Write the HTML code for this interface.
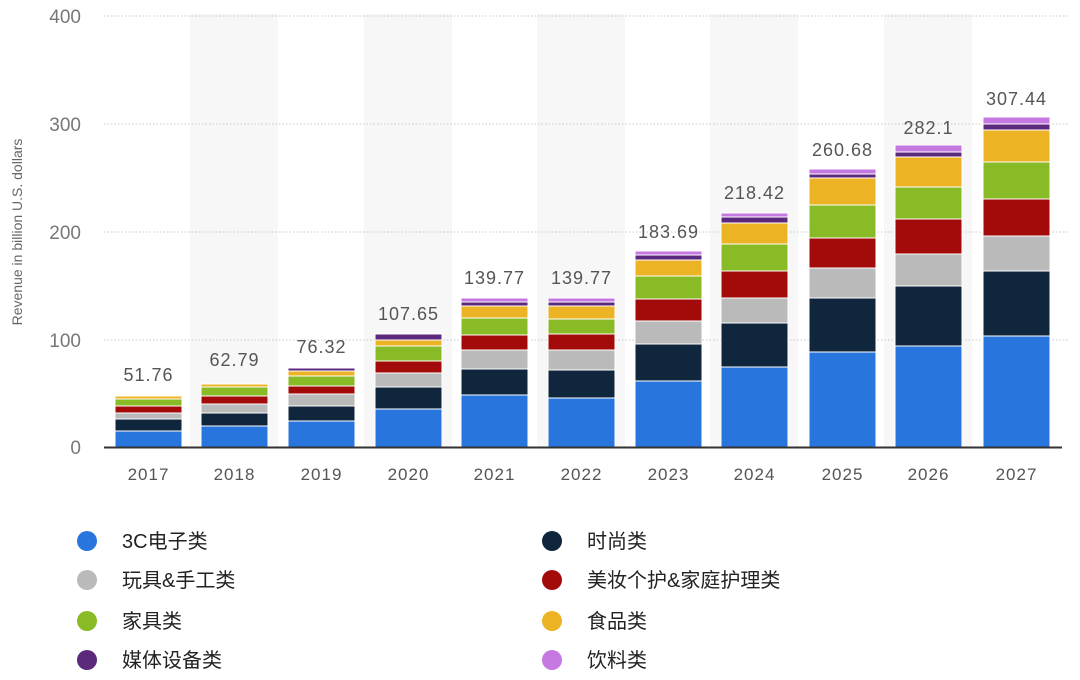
<!DOCTYPE html>
<html><head><meta charset="utf-8"><style>
body{margin:0;background:#fff;width:1080px;height:680px;overflow:hidden}
svg{display:block}
text{font-family:"Liberation Sans","Noto Sans CJK SC",sans-serif}
</style></head><body>
<svg id="s" width="1080" height="680" xmlns="http://www.w3.org/2000/svg"></svg>
<script>
const s=document.getElementById('s');
let h='';
const cols=['#2876dd','#10263d','#bababa','#a30a0a','#88bb25','#ecb324','#5c2a7c','#c578e0'];
const xs=[115,201,288,375,461,548,635,721,809,895,983];
const years=[2017,2018,2019,2020,2021,2022,2023,2024,2025,2026,2027];
const tops=[
[431,419,413,406,399,396],
[426,413,404,396,387,384],
[421,406,394,386,376,371,368],
[409,387,373,361,346,340,334],
[395,369,350,335,318,306,302,298],
[398,370,350,334,319,306,302,298],
[381,344,321,299,276,260,255,251],
[367,323,298,271,244,223,217,213],
[352,298,268,238,205,178,174,169],
[346,286,254,219,187,157,152,145],
[336,271,236,199,162,130,124,117]];
const labels=['51.76','62.79','76.32','107.65','139.77','139.77','183.69','218.42','260.68','282.1','307.44'];
const ly=[381,366,353,320,284,284,238,199,156,134,105];
for(let i=1;i<11;i+=2){h+=`<rect x="${xs[i]-11}" y="14" width="88" height="433" fill="#f7f7f7"/>`;}
[16,124,232,340].forEach((y,i)=>{h+=`<line x1="104" x2="1070" y1="${y}" y2="${y}" stroke="#c8c8c8" stroke-dasharray="1.5,2"/>`;});
['400','300','200','100','0'].forEach((t,i)=>{const y=[16,124,232,340,447][i];h+=`<text x="81" y="${y+7}" text-anchor="end" font-size="19" fill="#777">${t}</text>`;});
h+=`<text transform="translate(22,232) rotate(-90)" text-anchor="middle" font-size="14" fill="#666">Revenue in billion U.S. dollars</text>`;
xs.forEach((x,i)=>{let prev=447;tops[i].forEach((t,j)=>{h+=`<rect x="${x}" y="${t}" width="67" height="${prev-t}" fill="${cols[j]}" stroke="#fff" stroke-width="1"/>`;prev=t;});
h+=`<text x="${x+33.5}" y="${ly[i]}" text-anchor="middle" font-size="18" fill="#555" letter-spacing="1">${labels[i]}</text>`;
h+=`<text x="${x+33.5}" y="480" text-anchor="middle" font-size="17" fill="#555" letter-spacing="1">${years[i]}</text>`;});
h+=`<line x1="104" x2="1062" y1="447.5" y2="447.5" stroke="#333" stroke-width="2"/>`;
const L=[['3C电子类',0,87,541],['时尚类',1,552,541],['玩具&手工类',2,87,580],['美妆个护&家庭护理类',3,552,580],['家具类',4,87,621],['食品类',5,552,621],['媒体设备类',6,87,660],['饮料类',7,552,660]];
L.forEach(([t,c,x,y])=>{h+=`<circle cx="${x}" cy="${y}" r="10" fill="${cols[c]}"/><text x="${x+35}" y="${y+7}" font-size="20" fill="#222">${t}</text>`;});
s.innerHTML=h;
</script>
</body></html>
